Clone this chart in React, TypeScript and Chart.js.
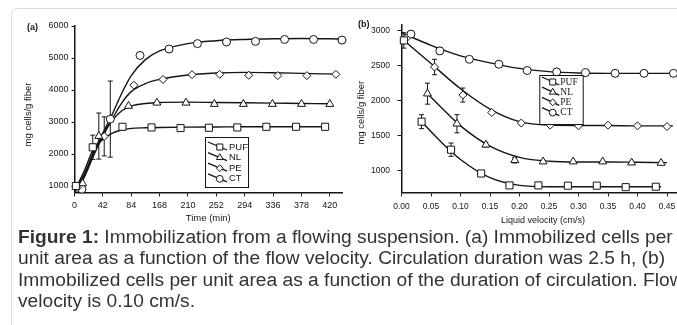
import React, { useEffect, useRef } from 'react';
import { Chart, registerables } from 'chart.js';

Chart.register(...registerables);

// ---------- Panel (a): immobilized cells vs time ----------
const TIME_TICKS = [0, 42, 84, 126, 168, 210, 252, 294, 336, 378];
const TIME_TICK_LABELS = ['0', '42', '84', '168', '210', '252', '294', '336', '378', '420'];
const A_Y_TICKS = [1000, 2000, 3000, 4000, 5000, 6000];

const A_PUF_T = [2, 27, 71, 114, 157, 199, 241, 284, 328, 371];
const A_PUF_V = [1000, 2210, 2850, 2830, 2810, 2820, 2830, 2850, 2850, 2850];
const A_PUF_ERR = [0, 380, 0, 0, 0, 0, 0, 0, 0, 0];
const A_NL_T = [12, 36, 80, 122, 165, 207, 250, 293, 336, 378];
const A_NL_V = [1080, 2560, 3500, 3600, 3600, 3560, 3560, 3560, 3560, 3560];
const A_NL_ERR = [0, 720, 0, 0, 0, 0, 0, 0, 0, 0];
const A_PE_T = [4, 44, 88, 131, 174, 215, 258, 301, 344, 387];
const A_PE_V = [950, 2550, 4150, 4330, 4480, 4490, 4460, 4450, 4450, 4490];
const A_PE_ERR = [0, 610, 0, 0, 0, 0, 0, 0, 0, 0];
const A_CT_T = [11, 53, 97, 140, 182, 225, 268, 311, 354, 396];
const A_CT_V = [900, 3090, 5080, 5280, 5450, 5500, 5520, 5580, 5580, 5560];
const A_CT_ERR = [0, 1190, 0, 0, 0, 0, 0, 0, 0, 0];

const A_PUF_FIT_T = [0, 14, 28, 42, 56, 70, 84, 105, 126, 168, 210, 252, 294, 336, 371];
const A_PUF_FIT_V = [850, 1450, 2150, 2450, 2650, 2750, 2800, 2820, 2830, 2840, 2845, 2850, 2850, 2850, 2850];
const A_NL_FIT_T = [0, 14, 28, 42, 56, 70, 84, 105, 126, 168, 210, 252, 294, 336, 378];
const A_NL_FIT_V = [850, 1350, 2050, 2650, 3050, 3350, 3500, 3580, 3610, 3620, 3610, 3600, 3590, 3580, 3570];
const A_PE_FIT_T = [0, 14, 28, 42, 56, 70, 84, 105, 126, 168, 210, 252, 294, 336, 387];
const A_PE_FIT_V = [850, 1300, 1950, 2550, 3100, 3600, 3950, 4200, 4330, 4470, 4530, 4550, 4540, 4520, 4495];
const A_CT_FIT_T = [0, 14, 28, 42, 56, 70, 84, 105, 126, 168, 210, 252, 294, 336, 396];
const A_CT_FIT_V = [800, 1250, 1950, 2650, 3250, 3900, 4450, 4950, 5220, 5450, 5540, 5580, 5600, 5610, 5595];

// ---------- Panel (b): immobilized cells vs liquid velocity ----------
const B_X_TICKS = [0, 0.05, 0.1, 0.15, 0.2, 0.25, 0.3, 0.35, 0.4, 0.45];
const B_Y_TICKS = [1000, 1500, 2000, 2500, 3000];

const B_PUF_X = [0.004, 0.034, 0.084, 0.135, 0.183, 0.232, 0.282, 0.331, 0.38, 0.431];
const B_PUF_V = [2860, 1700, 1300, 960, 790, 790, 786, 786, 765, 771];
const B_PUF_ERR = [110, 100, 95, 0, 0, 0, 0, 0, 0, 0];
const B_NL_X = [0.044, 0.094, 0.143, 0.192, 0.24, 0.291, 0.341, 0.39, 0.44];
const B_NL_V = [2100, 1670, 1370, 1150, 1130, 1130, 1130, 1115, 1110];
const B_NL_ERR = [150, 130, 30, 40, 0, 0, 0, 0, 0];
const B_PE_X = [0.008, 0.056, 0.104, 0.153, 0.203, 0.252, 0.3, 0.35, 0.4, 0.45];
const B_PE_V = [2890, 2480, 2080, 1830, 1680, 1650, 1640, 1650, 1640, 1630];
const B_PE_ERR = [0, 110, 100, 0, 0, 0, 0, 0, 0, 0];
const B_CT_X = [0.016, 0.065, 0.115, 0.165, 0.213, 0.263, 0.312, 0.362, 0.411, 0.461];
const B_CT_V = [2950, 2710, 2590, 2520, 2430, 2410, 2400, 2390, 2390, 2390];
const B_CT_ERR = [0, 50, 0, 0, 0, 0, 0, 0, 0, 0];

const B_PUF_FIT_X = [0.034, 0.06, 0.1, 0.15, 0.2, 0.25, 0.3, 0.35, 0.4, 0.44];
const B_PUF_FIT_V = [1700, 1470, 1160, 900, 790, 770, 770, 770, 770, 770];
const B_NL_FIT_X = [0.044, 0.07, 0.1, 0.15, 0.2, 0.25, 0.3, 0.35, 0.4, 0.45];
const B_NL_FIT_V = [2100, 1880, 1640, 1350, 1190, 1135, 1125, 1125, 1120, 1115];
const B_PE_FIT_X = [0, 0.05, 0.1, 0.15, 0.2, 0.25, 0.3, 0.35, 0.4, 0.46];
const B_PE_FIT_V = [2890, 2530, 2170, 1880, 1700, 1650, 1645, 1645, 1640, 1640];
const B_CT_FIT_X = [0, 0.05, 0.1, 0.15, 0.2, 0.25, 0.3, 0.35, 0.4, 0.47];
const B_CT_FIT_V = [2970, 2790, 2640, 2540, 2460, 2415, 2395, 2390, 2390, 2390];

const SERIES_NAMES = ['PUF', 'NL', 'PE', 'CT'];
const CAPTION_LINES = [
  ['Figure 1:', ' Immobilization from a flowing suspension. (a) Immobilized cells per'],
  ['', 'unit area as a function of the flow velocity. Circulation duration was 2.5 h, (b)'],
  ['', 'Immobilized cells per unit area as a function of the duration of circulation. Flow'],
  ['', 'velocity is 0.10 cm/s.'],
];

const SANS = "'Liberation Sans', Arial, sans-serif";
const SERIF = "'Liberation Serif', 'Times New Roman', serif";
const INK = '#151515';

type Style = 'rect' | 'triangle' | 'rectRot' | 'circle';
const STYLES: Style[] = ['rect', 'triangle', 'rectRot', 'circle'];
const RADII = [5, 4.6, 4, 4];

const zip = (xs: number[], ys: number[]) => xs.map((x, i) => ({ x, y: ys[i] }));
const fixedTicks = (vals: number[]) => (s: any) => { s.ticks = vals.map((value) => ({ value })); };

function drawMarker(ctx: CanvasRenderingContext2D, style: Style, x: number, y: number, r: number) {
  ctx.beginPath();
  if (style === 'circle') {
    ctx.arc(x, y, r, 0, Math.PI * 2);
  } else if (style === 'rect') {
    const s = r * Math.SQRT1_2;
    ctx.rect(x - s, y - s, 2 * s, 2 * s);
  } else if (style === 'rectRot') {
    ctx.moveTo(x, y - r);
    ctx.lineTo(x + r, y);
    ctx.lineTo(x, y + r);
    ctx.lineTo(x - r, y);
    ctx.closePath();
  } else {
    ctx.moveTo(x, y - r);
    ctx.lineTo(x + r * 0.866, y + r * 0.5);
    ctx.lineTo(x - r * 0.866, y + r * 0.5);
    ctx.closePath();
  }
  ctx.fillStyle = '#fff';
  ctx.fill();
  ctx.strokeStyle = INK;
  ctx.lineWidth = 1;
  ctx.stroke();
}

const errorBarPlugin = {
  id: 'errorBars',
  beforeDatasetsDraw(chart: any) {
    const { ctx } = chart;
    const yScale = chart.scales.y;
    ctx.save();
    ctx.strokeStyle = INK;
    ctx.lineWidth = 1;
    chart.data.datasets.forEach((ds: any, i: number) => {
      if (!ds.errors) return;
      const meta = chart.getDatasetMeta(i);
      ds.errors.forEach((e: number, j: number) => {
        if (!e) return;
        const el = meta.data[j];
        const v = ds.data[j].y;
        const yt = yScale.getPixelForValue(v + e);
        const yb = yScale.getPixelForValue(v - e);
        ctx.beginPath();
        ctx.moveTo(el.x, yt);
        ctx.lineTo(el.x, yb);
        ctx.moveTo(el.x - 2.5, yt);
        ctx.lineTo(el.x + 2.5, yt);
        ctx.moveTo(el.x - 2.5, yb);
        ctx.lineTo(el.x + 2.5, yb);
        ctx.stroke();
      });
    });
    ctx.restore();
  },
};

const boxLegendPlugin = {
  id: 'boxLegend',
  afterDatasetsDraw(chart: any, _args: any, opts: any) {
    const { ctx, chartArea } = chart;
    const bx = chartArea.left + opts.dx;
    const by = chartArea.top + opts.dy;
    ctx.save();
    ctx.fillStyle = '#fff';
    ctx.fillRect(bx, by, opts.w, opts.h);
    ctx.strokeStyle = INK;
    ctx.lineWidth = 1;
    ctx.strokeRect(bx + 0.5, by + 0.5, opts.w, opts.h);
    SERIES_NAMES.forEach((name, i) => {
      const yc = by + opts.firstRow + i * opts.rowStep;
      ctx.beginPath();
      ctx.strokeStyle = INK;
      ctx.lineWidth = 1.3;
      ctx.moveTo(bx + opts.iconX0, yc - 4.5);
      ctx.lineTo(bx + opts.iconX1, yc + 3.5);
      ctx.stroke();
      drawMarker(ctx, STYLES[i], bx + opts.iconX0 + (opts.iconX1 - opts.iconX0) * 0.62, yc + 0.5, RADII[i] * 0.85);
      ctx.fillStyle = INK;
      ctx.font = opts.font;
      ctx.textBaseline = 'middle';
      ctx.textAlign = 'left';
      ctx.fillText(name, bx + opts.textX, yc + 0.5);
    });
    ctx.restore();
  },
};

function makeDatasets(markers: { x: number[]; v: number[]; e: number[] }[], fits: { x: number[]; v: number[] }[]) {
  const marks = markers.map((m, i) => ({
    label: SERIES_NAMES[i],
    data: zip(m.x, m.v),
    errors: m.e,
    showLine: false,
    pointStyle: STYLES[i],
    pointRadius: RADII[i],
    pointBackgroundColor: '#fff',
    pointBorderColor: INK,
    pointBorderWidth: 1,
    clip: false,
  }));
  const lines = fits.map((f, i) => ({
    label: SERIES_NAMES[i] + ' fit',
    data: zip(f.x, f.v),
    showLine: true,
    pointRadius: 0,
    borderColor: INK,
    borderWidth: 1.4,
    cubicInterpolationMode: 'monotone',
    clip: false,
  }));
  return [...marks, ...lines];
}

function axisBase(fontSize: number) {
  return {
    type: 'linear',
    border: { display: true, color: INK, width: 1.5 },
    grid: { display: true, drawOnChartArea: false, drawTicks: true, tickLength: 4, color: INK, lineWidth: 1 },
    ticks: { color: INK, font: { family: SANS, size: fontSize }, autoSkip: false, maxRotation: 0 },
  };
}

function ChartA() {
  const ref = useRef<HTMLCanvasElement>(null);
  useEffect(() => {
    if (!ref.current) return;
    const xb: any = axisBase(9);
    const yb: any = axisBase(9);
    const chart = new Chart(ref.current, {
      type: 'scatter',
      data: {
        datasets: makeDatasets(
          [
            { x: A_PUF_T, v: A_PUF_V, e: A_PUF_ERR },
            { x: A_NL_T, v: A_NL_V, e: A_NL_ERR },
            { x: A_PE_T, v: A_PE_V, e: A_PE_ERR },
            { x: A_CT_T, v: A_CT_V, e: A_CT_ERR },
          ],
          [
            { x: A_PUF_FIT_T, v: A_PUF_FIT_V },
            { x: A_NL_FIT_T, v: A_NL_FIT_V },
            { x: A_PE_FIT_T, v: A_PE_FIT_V },
            { x: A_CT_FIT_T, v: A_CT_FIT_V },
          ]
        ) as any,
      },
      options: {
        animation: false,
        responsive: false,
        events: [],
        layout: { padding: { left: 0, top: 26, right: 18, bottom: 0 } },
        plugins: {
          legend: { display: false },
          tooltip: { enabled: false },
          boxLegend: { dx: 130.5, dy: 111, w: 43, h: 50, firstRow: 9.5, rowStep: 10.6, iconX0: 3, iconX1: 22, textX: 24, font: `9.5px ${SANS}` },
        } as any,
        scales: {
          x: {
            ...xb,
            min: 0,
            max: 396,
            afterFit: (s: any) => { s.height = 37.6; },
            afterBuildTicks: fixedTicks(TIME_TICKS),
            ticks: {
              ...xb.ticks,
              padding: 4,
              callback: (v: any) => {
                const i = TIME_TICKS.indexOf(Math.round(Number(v)));
                return i >= 0 ? TIME_TICK_LABELS[i] : '';
              },
            },
            title: { display: true, text: 'Time (min)', color: INK, font: { family: SANS, size: 9.5 }, padding: { top: 0, bottom: 6 } },
          },
          y: {
            ...yb,
            min: 800,
            max: 6000,
            afterFit: (s: any) => { s.width = 74.5; },
            afterBuildTicks: fixedTicks(A_Y_TICKS),
            grid: { ...yb.grid, tickLength: 3 },
            ticks: { ...yb.ticks, padding: 3, callback: (v: any) => String(v) },
            title: { display: true, text: 'mg cells/g fiber\u00a0\u00a0\u00a0\u00a0', color: INK, font: { family: SANS, size: 9.5 }, padding: { top: 23, bottom: 0 } },
          },
        } as any,
      },
      plugins: [errorBarPlugin, boxLegendPlugin],
    });
    return () => chart.destroy();
  }, []);
  return <canvas ref={ref} width={360} height={230} style={{ position: 'absolute', left: 0, top: 0, width: 360, height: 230 }} />;
}

function ChartB() {
  const ref = useRef<HTMLCanvasElement>(null);
  useEffect(() => {
    if (!ref.current) return;
    const xb: any = axisBase(8.5);
    const yb: any = axisBase(8.5);
    const chart = new Chart(ref.current, {
      type: 'scatter',
      data: {
        datasets: makeDatasets(
          [
            { x: B_PUF_X, v: B_PUF_V, e: B_PUF_ERR },
            { x: B_NL_X, v: B_NL_V, e: B_NL_ERR },
            { x: B_PE_X, v: B_PE_V, e: B_PE_ERR },
            { x: B_CT_X, v: B_CT_V, e: B_CT_ERR },
          ],
          [
            { x: B_PUF_FIT_X, v: B_PUF_FIT_V },
            { x: B_NL_FIT_X, v: B_NL_FIT_V },
            { x: B_PE_FIT_X, v: B_PE_FIT_V },
            { x: B_CT_FIT_X, v: B_CT_FIT_V },
          ]
        ) as any,
      },
      options: {
        animation: false,
        responsive: false,
        events: [],
        layout: { padding: { left: 0, top: 25, right: 20.3, bottom: 0 } },
        plugins: {
          legend: { display: false },
          tooltip: { enabled: false },
          boxLegend: { dx: 137.8, dy: 50, w: 43.4, h: 49, firstRow: 6.5, rowStep: 10.2, iconX0: 2.7, iconX1: 20, textX: 21, font: `9.5px ${SERIF}` },
        } as any,
        scales: {
          x: {
            ...xb,
            min: 0,
            max: 0.48,
            afterFit: (s: any) => { s.height = 37.6; },
            afterBuildTicks: fixedTicks(B_X_TICKS),
            ticks: { ...xb.ticks, padding: 5, callback: (v: any) => Number(v).toFixed(2) },
            title: { display: true, text: 'Liquid velocity (cm/s)', color: INK, font: { family: SANS, size: 9 }, padding: { top: 0, bottom: 4.5 } },
          },
          y: {
            ...yb,
            min: 690,
            max: 3080,
            afterFit: (s: any) => { s.width = 71.5; },
            afterBuildTicks: fixedTicks(B_Y_TICKS),
            ticks: { ...yb.ticks, padding: 7.5, callback: (v: any) => String(v) },
            title: { display: true, text: 'mg cells/g fiber\u00a0\u00a0\u00a0', color: INK, font: { family: SANS, size: 9.5 }, padding: { top: 26, bottom: 0 } },
          },
        } as any,
      },
      plugins: [errorBarPlugin, boxLegendPlugin],
    });
    return () => chart.destroy();
  }, []);
  return <canvas ref={ref} width={375} height={230} style={{ position: 'absolute', left: 330, top: 0, width: 375, height: 230 }} />;
}

export default function App() {
  useEffect(() => {
    document.body.style.margin = '0';
    document.body.style.background = '#fff';
  }, []);
  return (
    <div style={{ position: 'relative', width: 677, height: 325, overflow: 'hidden', background: '#fff' }}>
      <div style={{ position: 'absolute', left: 11, top: 8, width: 720, height: 400, border: '1.5px solid #dedede', borderRadius: 6, boxSizing: 'border-box' }} />
      <ChartA />
      <ChartB />
      <div style={{ position: 'absolute', left: 27, top: 22, font: `bold 9px ${SANS}`, color: INK }}>(a)</div>
      <div style={{ position: 'absolute', left: 358, top: 19, font: `bold 9px ${SANS}`, color: INK }}>(b)</div>
      <div style={{ position: 'absolute', left: 18, top: 226, fontFamily: SANS, fontSize: 19.2, lineHeight: '21.3px', color: '#333', whiteSpace: 'nowrap' }}>
        {CAPTION_LINES.map((l, i) => (
          <div key={i}>
            {l[0] ? <b>{l[0]}</b> : null}
            {l[1]}
          </div>
        ))}
      </div>
    </div>
  );
}
